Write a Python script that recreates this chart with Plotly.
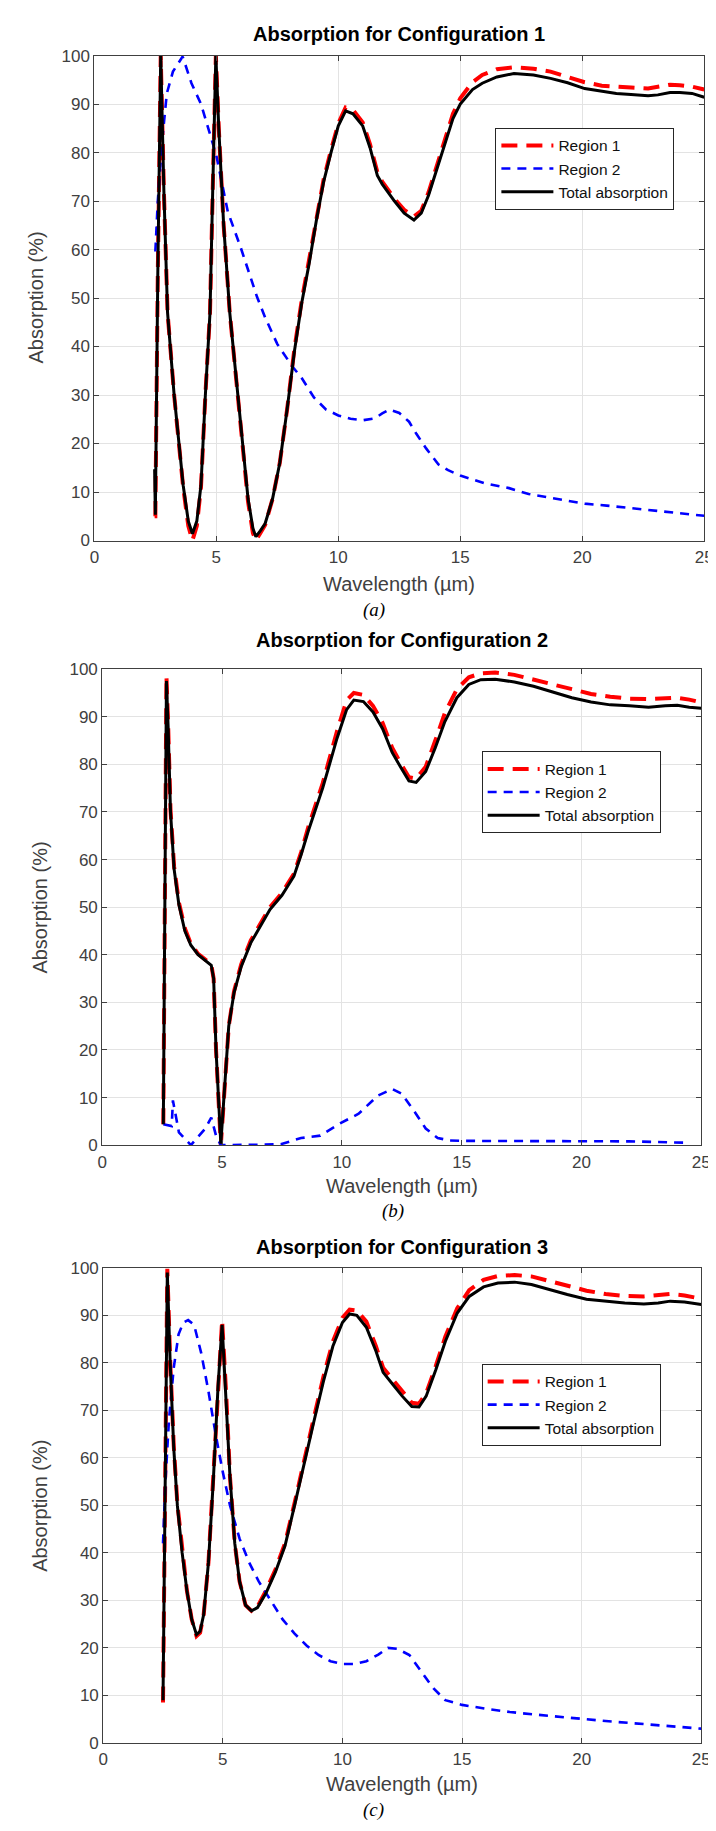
import plotly.graph_objects as go

W, H = 716, 1831

# ---------------- data ----------------
# Panel (a)
p1_x = [2.47, 2.5, 2.6, 2.72, 2.85, 3.0, 3.27, 3.64, 3.85, 4.02, 4.2, 4.37, 4.55, 4.74, 4.85, 4.98, 5.1, 5.3, 5.55, 5.8,
        6.0, 6.3, 6.5, 6.62, 6.8, 7.0, 7.3, 7.6, 7.9, 8.2, 8.5, 8.8, 9.1, 9.4, 9.7, 10.0, 10.3, 10.6, 11.0, 11.3,
        11.6, 11.8, 12.3, 12.7, 13.1, 13.4, 13.7, 14.0, 14.3, 14.7, 15.0, 15.5, 15.9, 16.5, 17.2, 18.0, 18.7, 19.4, 20.1, 20.8,
        21.4, 22.0, 22.7, 23.1, 23.6, 24.0, 24.5, 25.0]
p1_total = [14.7, 5.3, 55, 100, 72, 47, 30, 11.4, 4, 1.4, 4, 11.4, 30, 47, 72, 100, 85, 65, 47, 34,
            24.3, 8.6, 2.5, 0.8, 2, 3.5, 8.5, 16, 27, 39, 49, 57, 66, 74, 80, 85.5, 88.6, 88, 85.5, 81,
            75.3, 73.5, 70, 67.5, 66.1, 67.5, 71.2, 76, 80.8, 87, 90, 93, 94.3, 95.6, 96.3, 96, 95.3, 94.4, 93.2, 92.6,
            92.2, 92.0, 91.7, 91.9, 92.4, 92.4, 92.2, 91.4]
p1_region1 = [5, 5, 55, 100, 72, 47, 30, 11, 3, 0, 3, 11, 30, 47, 72, 100, 85, 65, 47, 34,
              24, 8, 1.5, 0, 1.5, 3.2, 8.5, 16, 27, 39.5, 49.5, 57.5, 66.5, 74.5, 80.5, 86, 89.3, 88.8, 86.2, 81.7,
              76, 74, 70.5, 68.2, 66.8, 68, 71.8, 76.8, 81.8, 88, 91.2, 94.5, 96, 97.2, 97.6, 97.3, 96.7, 95.6, 94.5, 93.8,
              93.5, 93.4, 93.2, 93.6, 94.0, 93.9, 93.6, 93.0]
p1_x_r2 = [2.5, 2.6, 2.77, 2.97, 3.22, 3.62, 3.98, 4.37, 4.7, 5.0, 5.47, 6.0, 6.67, 7.0, 7.5, 8.1, 8.5, 9.0, 9.5, 10.0,
           10.5, 11.0, 11.5, 11.8, 12.1, 12.5, 12.9, 13.2, 13.6, 14.1, 14.5, 15.0, 16.0, 17.0, 17.8, 19.0, 20.1, 21.0, 22.0, 23.0,
           24.0, 25.0]
p1_region2 = [59.6, 70, 82, 92.2, 96.7, 99.8, 94.3, 90, 84.5, 79.4, 67.8, 60.4, 50.2, 46, 40.5, 36, 33.5, 29.5, 27, 25.8,
              25.1, 24.8, 25.2, 26.2, 27, 26.3, 24.5, 22, 19, 15.7, 14.5, 13.4, 11.8, 10.8, 9.6, 8.6, 7.6, 7.2, 6.7, 6.2,
              5.6, 5.1]

# Panel (b)
p2_x = [2.55, 2.6, 2.68, 2.75, 2.85, 3.0, 3.2, 3.45, 3.7, 4.0, 4.3, 4.55, 4.65, 4.75, 4.95, 5.1, 5.28, 5.5, 5.8, 6.2,
        6.6, 7.0, 7.5, 8.0, 8.3, 8.6, 9.2, 9.8, 10.2, 10.5, 10.9, 11.3, 11.7, 12.1, 12.5, 12.8, 13.1, 13.5, 13.9, 14.3,
        14.8, 15.3, 15.8, 16.4, 17.2, 18.0, 18.8, 19.6, 20.4, 21.2, 22.0, 22.8, 23.5, 24.0, 24.5, 25.0]
p2_total = [4.4, 45, 97.5, 88, 70, 58, 50.5, 45, 42, 40, 38.7, 37.8, 35, 20, 0.3, 12, 25, 32, 37.5, 42.5,
            46, 49.5, 52.5, 56.5, 61, 66, 75, 85.5, 91.5, 93.5, 93.2, 91, 87.5, 82.5, 79, 76.5, 76.2, 78.5, 83.5, 89,
            94, 96.8, 97.8, 97.9, 97.3, 96.4, 95.2, 94, 93.1, 92.5, 92.3, 92.0, 92.3, 92.4, 92.0, 91.8]
p2_region1 = [4.4, 45, 98.5, 88.5, 70.5, 58.5, 51, 45.5, 42.3, 40.2, 38.9, 38, 35, 20, 0, 12, 25, 32.3, 38, 43,
              46.5, 50, 53, 57, 61.5, 66.8, 76, 87, 93.5, 95, 94.6, 92.3, 88.7, 83.5, 79.8, 77.3, 77, 79.5, 85, 90.8,
              95.8, 98.3, 99.1, 99.3, 98.8, 97.9, 96.8, 95.8, 94.8, 94.2, 93.8, 93.7, 93.9, 94.0, 93.6, 93.0]
p2_x_r2 = [2.55, 2.9, 2.95, 3.2, 3.7, 4.3, 4.55, 4.75, 4.95, 5.5, 6.5, 7.45, 8.3, 9.1, 9.9, 10.7, 11.5, 12.1, 12.5, 13.05,
           13.5, 14.0, 14.5, 15.0, 17.0, 20.0, 22.0, 24.5]
p2_region2 = [4.4, 4.0, 9.4, 2.7, 0, 3.5, 5.8, 2, 0, 0, 0.1, 0.2, 1.5, 2, 4.5, 6.6, 10.4, 11.8, 10.8, 6.9,
              3.5, 1.5, 1.0, 0.9, 0.9, 0.9, 0.8, 0.5]

# Panel (c)
p3_x = [2.5, 2.57, 2.68, 2.8, 2.95, 3.1, 3.3, 3.5, 3.7, 3.9, 4.05, 4.2, 4.4, 4.6, 4.8, 4.97, 5.15, 5.3, 5.5, 5.7,
        5.95, 6.2, 6.45, 6.8, 7.2, 7.6, 8.0, 8.4, 8.8, 9.2, 9.6, 10.0, 10.3, 10.6, 11.0, 11.4, 11.7, 12.1, 12.5, 12.9,
        13.2, 13.5, 13.9, 14.3, 14.8, 15.3, 15.9, 16.5, 17.2, 17.9, 18.6, 19.4, 20.2, 21.0, 21.8, 22.6, 23.2, 23.7, 24.3, 25.0]
p3_total = [9, 40, 99, 80, 62, 50, 40, 32, 26, 22.8, 23.5, 27, 38, 55, 75, 88, 72, 56, 42, 34,
            29, 27.8, 28.5, 31.5, 36, 41.5, 50, 59, 67.5, 76, 83.5, 88.5, 90.3, 90, 87.5, 82.5, 78, 75.5, 73, 70.8,
            70.7, 73, 78.5, 84.5, 90.5, 94, 96, 96.8, 97, 96.5, 95.5, 94.4, 93.4, 93.0, 92.6, 92.4, 92.6, 93.0, 92.8, 92.3]
p3_region1 = [8.5, 40, 99.8, 80.5, 62.5, 50.3, 40.2, 32, 26, 22.5, 23.2, 27, 38, 55.5, 76, 89, 72.5, 56, 42, 34,
              29, 27.8, 28.7, 32, 36.5, 42, 50.5, 59.7, 68.3, 77, 84.5, 89.5, 91.2, 91, 88.7, 83.5, 79, 76.5, 74, 71.6,
              71.4, 73.6, 79.3, 85.5, 91.5, 95.3, 97.5, 98.3, 98.5, 98.2, 97.3, 96.2, 95.2, 94.5, 94.1, 94.0, 94.2, 94.5, 94.2, 93.5]
p3_x_r2 = [2.5, 2.6, 2.75, 2.95, 3.15, 3.35, 3.55, 3.8, 4.1, 4.4, 4.7, 5.0, 5.3, 5.7, 6.1, 6.5, 7.0, 7.5, 8.0, 8.5,
           9.0, 9.5, 10.0, 10.5, 11.0, 11.5, 11.9, 12.3, 12.8, 13.3, 13.8, 14.3, 15.0, 16.0, 17.0, 18.0, 19.0, 20.0, 21.0, 22.0,
           23.0, 24.0, 25.0]
p3_region2 = [42, 55, 68, 79, 86, 88.5, 89, 88, 82, 74, 65, 57, 50, 43, 38, 34, 30, 26, 23, 20.5,
              18.5, 17.2, 16.6, 16.6, 17.2, 18.6, 20, 19.8, 18.5, 15, 11.5, 9, 8, 7.2, 6.5, 6, 5.5, 5, 4.6, 4.2,
              3.8, 3.3, 3.0]

titles = ["Absorption for Configuration 1", "Absorption for Configuration 2", "Absorption for Configuration 3"]
captions = ["(a)", "(b)", "(c)"]
series_names = ["Region 1", "Region 2", "Total absorption"]
x_ticks = [0, 5, 10, 15, 20, 25]
y_ticks = [0, 10, 20, 30, 40, 50, 60, 70, 80, 90, 100]

panels_data = [
    (p1_x, p1_region1, p1_x_r2, p1_region2, p1_total),
    (p2_x, p2_region1, p2_x_r2, p2_region2, p2_total),
    (p3_x, p3_region1, p3_x_r2, p3_region2, p3_total),
]

# ---------------- layout geometry (pixels) ----------------
geom = [
    dict(x0=83, x1=705, y0=39, y1=529, ty=17, xly=573, cx=368, cy=599, lx=492, ly=112, ylx=24),
    dict(x0=91, x1=702, y0=659, y1=1140, ty=630, xly=1181, cx=388, cy=1207, lx=478, ly=742, ylx=28),
    dict(x0=92, x1=702, y0=1264, y1=1744, ty=1243, xly=1786, cx=368, cy=1812, lx=478, ly=1361, ylx=28),
]


def px(x):
    return x / W


def py(y):
    return 1 - y / H


FONT = "Liberation Sans, Arial, Helvetica, sans-serif"
AX_COL = "#404040"

fig = go.Figure()
layout = dict(
    width=W, height=H, autosize=False,
    margin=dict(l=0, r=0, t=0, b=0),
    paper_bgcolor="white", plot_bgcolor="white",
    font=dict(family=FONT, color="#262626"),
    annotations=[],
)

colors = ["#ff0000", "#0000ff", "#000000"]
widths = [4, 2.6, 3]
dashes = ["16px,9px", "9px,7px", "solid"]

for i, (g, d) in enumerate(zip(geom, panels_data)):
    n = "" if i == 0 else str(i + 1)
    xa, ya = "x" + n, "y" + n
    leg = "legend" + n
    xs_list = [d[0], d[2], d[0]]
    ys_list = [d[1], d[3], d[4]]
    for k in range(3):
        fig.add_trace(go.Scatter(
            x=xs_list[k], y=ys_list[k], mode="lines", name=series_names[k],
            line=dict(color=colors[k], width=widths[k], dash=dashes[k]),
            xaxis=xa, yaxis=ya, legend=leg, showlegend=True,
        ))
    axis_common = dict(
        showline=True, linecolor=AX_COL, linewidth=1, mirror="allticks",
        ticks="inside", ticklen=5, tickcolor=AX_COL, tickwidth=1,
        showgrid=True, gridcolor="#e3e3e3", gridwidth=1, zeroline=False,
        tickfont=dict(family=FONT, size=17, color="#404040"),
    )
    layout["xaxis" + n] = dict(axis_common, domain=[px(g["x0"]), px(g["x1"])], range=[0, 25],
                               tickvals=x_ticks, anchor=ya, ticklabelstandoff=1)
    layout["yaxis" + n] = dict(axis_common, domain=[py(g["y1"]), py(g["y0"])], range=[0, 100],
                               tickvals=y_ticks, anchor=xa, ticklabelstandoff=0)
    layout[leg] = dict(
        x=px(g["lx"]), y=py(g["ly"]), xanchor="left", yanchor="top",
        bgcolor="white", bordercolor="#262626", borderwidth=1,
        font=dict(family=FONT, size=15.5, color="#111111"),
        itemwidth=52, tracegroupgap=0,
    )
    cxm = (g["x0"] + g["x1"]) / 2
    layout["annotations"] += [
        dict(text="<b>" + titles[i] + "</b>", x=px(cxm), y=py(g["ty"]), xref="paper", yref="paper",
             xanchor="center", yanchor="middle", showarrow=False,
             font=dict(family=FONT, size=20, color="black")),
        dict(text="Wavelength (µm)", x=px(cxm), y=py(g["xly"]), xref="paper", yref="paper",
             xanchor="center", yanchor="middle", showarrow=False,
             font=dict(family=FONT, size=20, color="#404040")),
        dict(text="Absorption (%)", x=px(g["ylx"]), y=py((g["y0"] + g["y1"]) / 2), xref="paper", yref="paper",
             xanchor="center", yanchor="middle", showarrow=False, textangle=-90,
             font=dict(family=FONT, size=20, color="#404040")),
        dict(text="<i>" + captions[i] + "</i>", x=px(g["cx"]), y=py(g["cy"]), xref="paper", yref="paper",
             xanchor="center", yanchor="middle", showarrow=False,
             font=dict(family="Liberation Serif, Times New Roman, serif", size=19, color="black")),
    ]

fig.update_layout(**layout)
fig.write_html("out.html")
